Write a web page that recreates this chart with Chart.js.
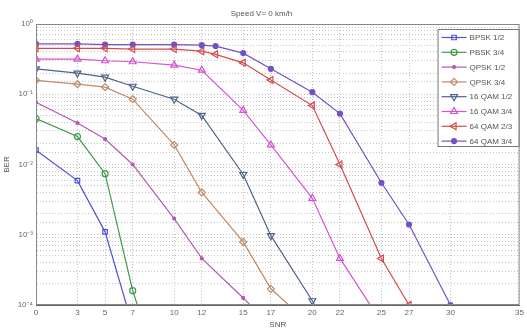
<!DOCTYPE html>
<html>
<head>
<meta charset="utf-8">
<script src="https://cdn.jsdelivr.net/npm/chart.js@4/dist/chart.umd.min.js"></script>
<style>
  html, body { margin: 0; padding: 0; background: #fff; }
  #wrap { width: 527px; height: 330px; }
</style>
</head>
<body>
<div id="wrap"><canvas id="berChart" width="527" height="330"></canvas></div>
<script>
const xTicks = [0, 3, 5, 7, 10, 12, 15, 17, 20, 22, 25, 27, 30, 35];
const snrBase = [0, 3, 5, 7, 10, 12, 15, 17, 20, 22, 25, 27, 30];
const snrQam64 = [0, 3, 5, 7, 10, 12, 13, 15, 17, 20, 22, 25, 27, 30];

const bpsk12 = [1.6e-2, 5.9e-3, 1.1e-3, 5e-5];
const pbsk34 = [4.5e-2, 2.5e-2, 7.4e-3, 1.6e-4, 2.5e-6];
const qpsk12 = [7.7e-2, 3.9e-2, 2.3e-2, 1e-2, 1.7e-3, 4.6e-4, 1.26e-4, 5e-5];
const qpsk34 = [0.158, 0.139, 0.126, 0.085, 1.9e-2, 4e-3, 7.9e-4, 1.7e-4, 5e-5];
const qam16_12 = [0.23, 0.2, 0.175, 0.13, 0.085, 0.05, 7.2e-3, 9.7e-4, 1.15e-4, 2e-5];
const qam16_34 = [0.316, 0.316, 0.3, 0.29, 0.26, 0.22, 0.059, 1.9e-2, 3.3e-3, 4.6e-4, 5.7e-5];
const qam64_23 = [0.45, 0.45, 0.45, 0.44, 0.44, 0.41, 0.37, 0.28, 0.16, 0.069, 1e-2, 4.6e-4, 1e-4];
const qam64_34 = [0.52, 0.52, 0.51, 0.51, 0.51, 0.5, 0.485, 0.385, 0.23, 0.107, 0.053, 5.5e-3, 1.4e-3, 1e-4];

const seriesNames = ['BPSK 1/2', 'PBSK 3/4', 'QPSK 1/2', 'QPSK 3/4', '16 QAM 1/2', '16 QAM 3/4', '64 QAM 2/3', '64 QAM 3/4'];

function pts(xs, ys) {
    return ys.map((y, i) => ({ x: xs[i], y: y }));
}

function series(label, xs, ys, color, style, opts) {
    return Object.assign({
        label: label,
        data: pts(xs, ys),
        borderColor: color,
        backgroundColor: 'rgba(255,255,255,0)',
        pointBorderColor: color,
        pointBackgroundColor: 'rgba(255,255,255,0)',
        borderWidth: 1.2,
        pointStyle: style,
        pointRadius: 3.5,
        pointBorderWidth: 1.2,
        pointRotation: 0,
        tension: 0
    }, opts || {});
}

const datasets = [
    series(seriesNames[0], snrBase, bpsk12, '#5252d6', 'rect', { pointRadius: 3.2 }),
    series(seriesNames[1], snrBase, pbsk34, '#3f9a45', 'circle', { pointRadius: 3 }),
    series(seriesNames[2], snrBase, qpsk12, '#b45ab4', 'circle', { pointRadius: 1.5, pointBackgroundColor: '#b45ab4' }),
    series(seriesNames[3], snrBase, qpsk34, '#c08a66', 'rectRot', { pointRadius: 3.5 }),
    series(seriesNames[4], snrBase, qam16_12, '#4c6488', 'triangle', { pointRotation: 180, pointRadius: 4 }),
    series(seriesNames[5], snrBase, qam16_34, '#d455d4', 'triangle', { pointRadius: 4 }),
    series(seriesNames[6], snrQam64, qam64_23, '#d44c4c', 'triangle', { pointRotation: 270, pointRadius: 4 }),
    series(seriesNames[7], snrQam64, qam64_34, '#7452c4', 'circle', { pointRadius: 2.5, pointBackgroundColor: '#7452c4' })
];

const sup = { '0': '\u2070', '1': '\u00b9', '2': '\u00b2', '3': '\u00b3', '4': '\u2074', '-': '\u207b' };

// legend box inside the plot, top-right
const boxLegend = {
    id: 'boxLegend',
    afterDraw(chart) {
        const ctx = chart.ctx;
        const ca = chart.chartArea;
        const left = ca.right - 82, top = ca.top + 5, w = 81, h = 117;
        ctx.save();
        ctx.fillStyle = '#fff';
        ctx.fillRect(left, top, w, h);
        ctx.strokeStyle = '#777';
        ctx.lineWidth = 1;
        ctx.strokeRect(left + 0.5, top + 0.5, w, h);
        ctx.font = '8px "Liberation Sans", Arial, sans-serif';
        ctx.textBaseline = 'middle';
        chart.data.datasets.forEach((ds, i) => {
            const y = top + 8.5 + i * 14.8;
            ctx.strokeStyle = ds.borderColor;
            ctx.lineWidth = 1.2;
            ctx.beginPath();
            ctx.moveTo(left + 4, y);
            ctx.lineTo(left + 29, y);
            ctx.stroke();
            ctx.fillStyle = ds.pointBackgroundColor;
            Chart.helpers.drawPoint(ctx, {
                pointStyle: ds.pointStyle,
                radius: ds.pointRadius,
                rotation: ds.pointRotation,
                borderWidth: ds.pointBorderWidth
            }, left + 16.5, y);
            ctx.fillStyle = '#555';
            ctx.fillText(ds.label, left + 32, y + 0.5);
        });
        ctx.restore();
    }
};

const frame = {
    id: 'frame',
    afterDatasetsDraw(chart) {
        const ca = chart.chartArea;
        const ctx = chart.ctx;
        ctx.save();
        ctx.strokeStyle = '#888';
        ctx.lineWidth = 1;
        ctx.strokeRect(ca.left + 0.5, ca.top + 0.5, ca.right - ca.left - 1, ca.bottom - ca.top - 1);
        ctx.restore();
    }
};

Chart.defaults.font.family = '"Liberation Sans", Arial, sans-serif';
Chart.defaults.color = '#666';

const ctx = document.getElementById('berChart').getContext('2d');
new Chart(ctx, {
    type: 'line',
    data: { datasets: datasets },
    options: {
        responsive: false,
        animation: false,
        layout: { padding: { left: 0, right: 4, top: 0, bottom: 0 } },
        plugins: {
            legend: { display: false },
            tooltip: { enabled: false },
            title: {
                display: true,
                text: 'Speed V= 0 km/h',
                font: { size: 8, weight: 'normal' },
                color: '#555',
                padding: { top: 9, bottom: 5.4 }
            }
        },
        scales: {
            x: {
                type: 'linear',
                min: 0,
                max: 35,
                afterBuildTicks: scale => { scale.ticks = xTicks.map(v => ({ value: v })); },
                afterFit: scale => { scale.height = 25; },
                ticks: { font: { size: 8 }, color: '#666', padding: 3, autoSkip: false, maxRotation: 0 },
                grid: { color: '#c4c4c4', drawTicks: false },
                border: { color: '#666', dash: [1, 2] },
                title: { display: true, text: 'SNR', font: { size: 8 }, color: '#555', padding: 0 }
            },
            y: {
                type: 'logarithmic',
                min: 1e-4,
                max: 1,
                afterFit: scale => { scale.width = 36; },
                ticks: {
                    font: { size: 8 },
                    color: '#666',
                    padding: 3,
                    autoSkip: false,
                    callback: v => {
                        const e = Math.log10(v);
                        if (Math.abs(e - Math.round(e)) > 1e-6) return '';
                        return '10' + String(Math.round(e)).split('').map(c => sup[c]).join('');
                    }
                },
                grid: { color: '#c4c4c4', drawTicks: false },
                border: { color: '#666', dash: [1, 2] },
                title: { display: true, text: 'BER', font: { size: 8 }, color: '#555', padding: 2 }
            }
        }
    },
    plugins: [frame, boxLegend]
});
</script>
</body>
</html>
